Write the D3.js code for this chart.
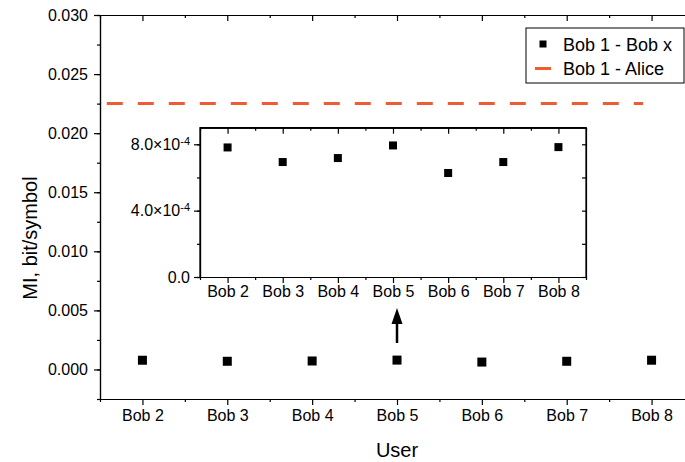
<!DOCTYPE html>
<html>
<head>
<meta charset="utf-8">
<script src="https://cdn.jsdelivr.net/npm/d3@7"></script>
<style>
  body { margin: 0; background: #fff; }
  svg text { font-family: "Liberation Sans", Arial, sans-serif; fill: #000; }
  .axis path, .axis line { stroke: #000; stroke-width: 1.2; }
  .axis text { font-size: 16px; }
</style>
</head>
<body>
<div id="chart"></div>
<script>
var users = ['Bob 2', 'Bob 3', 'Bob 4', 'Bob 5', 'Bob 6', 'Bob 7', 'Bob 8']
var userIndex = [2, 3, 4, 5, 6, 7, 8]
var miBobX = [7.81e-4, 6.93e-4, 7.17e-4, 7.93e-4, 6.27e-4, 6.93e-4, 7.83e-4]
var miAlice = 0.0225
var aliceSpan = [1.58, 7.9]
var mainYTicks = [0, 0.005, 0.010, 0.015, 0.020, 0.025, 0.030]
var insetYTicks = [0, 4e-4, 8e-4]
var insetYMantissa = ['0.0', '4.0×10', '8.0×10']
var insetYExponent = ['', '-4', '-4']

var width = 685, height = 462
var svg = d3.select('#chart').append('svg')
  .attr('width', width)
  .attr('height', height)

var x = d3.scaleLinear().domain([1.5, 8.5]).range([100, 694])
var y = d3.scaleLinear().domain([-0.0025, 0.030]).range([399, 15])
var majorX = userIndex
var minorX = d3.range(1.5, 8.6, 1)

var main = svg.append('g')

// bottom axis
main.append('g').attr('class', 'axis')
  .attr('transform', 'translate(0,399)')
  .call(d3.axisBottom(x).tickValues(minorX).tickSize(3).tickSizeOuter(0).tickFormat(''))
main.append('g').attr('class', 'axis')
  .attr('transform', 'translate(0,399)')
  .call(d3.axisBottom(x).tickValues(majorX).tickSize(6).tickPadding(5).tickSizeOuter(0)
    .tickFormat(function(d, i) { return users[i] }))

// top axis, ticks inward
main.append('g').attr('class', 'axis')
  .attr('transform', 'translate(0,15)')
  .call(d3.axisTop(x).tickValues(minorX).tickSize(-3).tickSizeOuter(0).tickFormat(''))
main.append('g').attr('class', 'axis')
  .attr('transform', 'translate(0,15)')
  .call(d3.axisTop(x).tickValues(majorX).tickSize(-6).tickSizeOuter(0).tickFormat(''))

// left axis
var mainYMinor = d3.range(-0.0025, 0.0301, 0.0025)
main.append('g').attr('class', 'axis')
  .attr('transform', 'translate(100,0)')
  .call(d3.axisLeft(y).tickValues(mainYMinor).tickSize(3).tickSizeOuter(0).tickFormat(''))
main.append('g').attr('class', 'axis')
  .attr('transform', 'translate(100,0)')
  .call(d3.axisLeft(y).tickValues(mainYTicks).tickSize(6).tickPadding(6).tickSizeOuter(0)
    .tickFormat(d3.format('.3f')))

// alice line
main.append('line')
  .attr('x1', x(aliceSpan[0])).attr('x2', x(aliceSpan[1]))
  .attr('y1', y(miAlice)).attr('y2', y(miAlice))
  .attr('stroke', '#EF5B34').attr('stroke-width', 3)
  .attr('stroke-dasharray', '16,15')

// main points
main.selectAll('rect.pt').data(miBobX).enter().append('rect')
  .attr('class', 'pt')
  .attr('x', function(d, i) { return x(userIndex[i]) - 4.5 })
  .attr('y', function(d) { return y(d) - 4.5 })
  .attr('width', 9).attr('height', 9)
  .attr('fill', '#000')

// axis titles
svg.append('text')
  .attr('x', 397).attr('y', 457)
  .attr('text-anchor', 'middle')
  .style('font-size', '20px')
  .text('User')
svg.append('text')
  .attr('transform', 'translate(37,238) rotate(-90)')
  .attr('text-anchor', 'middle')
  .style('font-size', '20px')
  .text('MI, bit/symbol')

// legend
var legend = svg.append('g')
legend.append('rect')
  .attr('x', 526).attr('y', 28).attr('width', 158).attr('height', 55)
  .attr('fill', '#fff').attr('stroke', '#000').attr('stroke-width', 1)
legend.append('rect')
  .attr('x', 539.5).attr('y', 40.5).attr('width', 7).attr('height', 7).attr('fill', '#000')
legend.append('text')
  .attr('x', 563).attr('y', 50.5).style('font-size', '18px').text('Bob 1 - Bob x')
legend.append('line')
  .attr('x1', 535).attr('x2', 551).attr('y1', 68.5).attr('y2', 68.5)
  .attr('stroke', '#EF5B34').attr('stroke-width', 3)
legend.append('text')
  .attr('x', 563).attr('y', 75).style('font-size', '18px').text('Bob 1 - Alice')

// inset
var xi = d3.scaleLinear().domain([1.5, 8.5]).range([200, 586])
var yi = d3.scaleLinear().domain([0, 9e-4]).range([277, 127.7])
var inset = svg.append('g')
inset.append('rect')
  .attr('x', 200).attr('y', 127.7).attr('width', 386).attr('height', 149.3)
  .attr('fill', '#fff')

var insetYMinor = d3.range(0, 9e-4, 2e-4)
inset.append('g').attr('class', 'axis')
  .attr('transform', 'translate(0,277)')
  .call(d3.axisBottom(xi).tickValues(minorX).tickSize(3).tickSizeOuter(0).tickFormat(''))
inset.append('g').attr('class', 'axis')
  .attr('transform', 'translate(0,277)')
  .call(d3.axisBottom(xi).tickValues(majorX).tickSize(6).tickPadding(3).tickSizeOuter(0)
    .tickFormat(function(d, i) { return users[i] }))
inset.append('g').attr('class', 'axis')
  .attr('transform', 'translate(0,127.7)')
  .call(d3.axisTop(xi).tickValues(minorX).tickSize(-3).tickSizeOuter(0).tickFormat(''))
inset.append('g').attr('class', 'axis')
  .attr('transform', 'translate(0,127.7)')
  .call(d3.axisTop(xi).tickValues(majorX).tickSize(-6).tickSizeOuter(0).tickFormat(''))
inset.append('g').attr('class', 'axis')
  .attr('transform', 'translate(200,0)')
  .call(d3.axisLeft(yi).tickValues(insetYMinor).tickSize(3).tickSizeOuter(0).tickFormat(''))
var insetLeft = inset.append('g').attr('class', 'axis')
  .attr('transform', 'translate(200,0)')
  .call(d3.axisLeft(yi).tickValues(insetYTicks).tickSize(6).tickPadding(4).tickSizeOuter(0)
    .tickFormat(''))
// mantissa plus raised exponent
insetLeft.selectAll('.tick text').each(function(d, i) {
  var t = d3.select(this)
  t.append('tspan').text(insetYMantissa[i])
  if (insetYExponent[i]) {
    t.append('tspan').attr('dy', '-0.45em').style('font-size', '11px').text(insetYExponent[i])
  }
})
inset.append('g').attr('class', 'axis')
  .attr('transform', 'translate(586,0)')
  .call(d3.axisRight(yi).tickValues(insetYMinor).tickSize(-4).tickSizeOuter(0).tickFormat(''))
inset.append('path')
  .attr('d', d3.line()([[200, 277], [200, 127.7], [586, 127.7], [586, 277]]))
  .attr('fill', 'none').attr('stroke', '#000').attr('stroke-width', 1.2)

inset.selectAll('rect.ipt').data(miBobX).enter().append('rect')
  .attr('class', 'ipt')
  .attr('x', function(d, i) { return xi(userIndex[i]) - 4 })
  .attr('y', function(d) { return yi(d) - 4 })
  .attr('width', 8).attr('height', 8)
  .attr('fill', '#000')

// arrow pointing at the inset
var ax5 = x(5)
svg.append('line')
  .attr('x1', ax5).attr('x2', ax5).attr('y1', 343).attr('y2', 320)
  .attr('stroke', '#000').attr('stroke-width', 2.5)
svg.append('path')
  .attr('d', d3.line()([[ax5, 308], [ax5 - 5.5, 324], [ax5 + 5.5, 324]]) + 'Z')
  .attr('fill', '#000')
</script>
</body>
</html>
